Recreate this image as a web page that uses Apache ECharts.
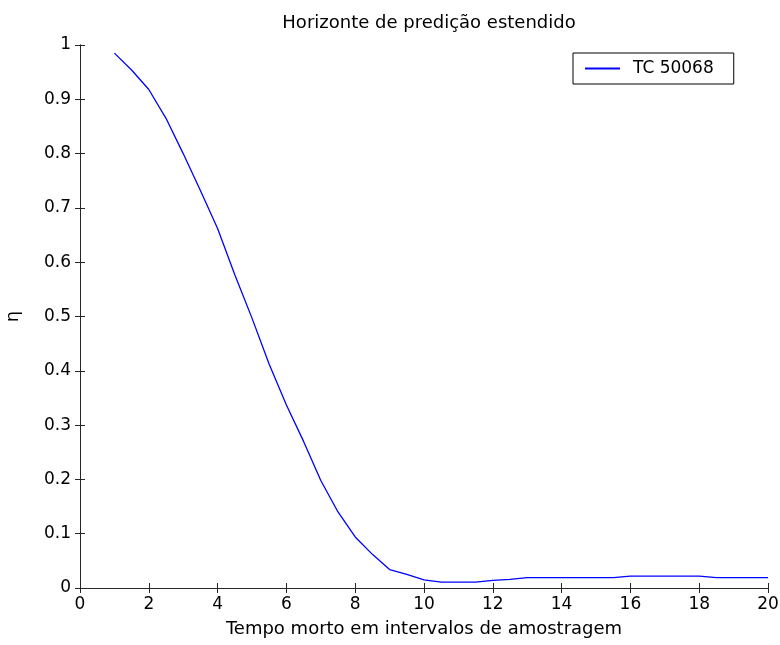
<!DOCTYPE html>
<html><head><meta charset="utf-8">
<script src="https://cdn.jsdelivr.net/npm/echarts@6/dist/echarts.min.js"></script>
<style>html,body{margin:0;padding:0;background:#fff}#c{width:780px;height:645px}</style>
</head><body><div id="c"></div>
<script>
const xValues = [1,1.5,2,2.5,3,3.5,4,4.5,5,5.5,6,6.5,7,7.5,8,8.5,9,9.5,10,10.5,11,11.5,12,12.5,13,13.5,14,14.5,15,15.5,16,16.5,17,17.5,18,18.5,19,19.5,20];
const etaValues = [0.985,0.954,0.918,0.865,0.800,0.732,0.662,0.577,0.497,0.412,0.337,0.270,0.198,0.140,0.094,0.062,0.034,0.025,0.015,0.011,0.011,0.011,0.014,0.016,0.019,0.019,0.019,0.019,0.019,0.019,0.022,0.022,0.022,0.022,0.022,0.019,0.019,0.019,0.019];
const seriesName = 'TC 50068';
const titleText = 'Horizonte de predição estendido';
const xLabel = 'Tempo morto em intervalos de amostragem';
const yLabel = 'η';

const font = '"DejaVu Sans", "Liberation Sans", Arial, sans-serif';
const axisCol = '#262626';
const chart = echarts.init(document.getElementById('c'));
const baseAxis = {
  axisLine: {show: true, lineStyle: {color: axisCol, width: 1}},
  axisTick: {show: true, inside: true, length: 5, lineStyle: {color: axisCol}},
  splitLine: {show: false}
};
chart.setOption({
  animation: false,
  title: {text: titleText, left: 424, top: 9, textAlign: 'center',
    textStyle: {fontFamily: font, fontSize: 18, fontWeight: 'normal', color: '#000'}},
  legend: {
    left: 573, top: 53,
    borderColor: '#000', borderWidth: 1, padding: [7, 20, 7, 12],
    itemWidth: 35, itemHeight: 2, itemGap: 0,
    textStyle: {fontFamily: font, fontSize: 17, color: '#000', padding: [0, 0, 0, 8]},
    data: [{name: seriesName, icon: 'rect'}]
  },
  grid: {left: 80, right: 12, top: 45, bottom: 57, containLabel: false, outerBoundsMode: 'none'},
  xAxis: [
    Object.assign({type: 'value', min: 0, max: 20, interval: 2, position: 'bottom',
      name: xLabel, nameLocation: 'middle', nameGap: 32,
      nameTextStyle: {fontFamily: font, fontSize: 18, color: '#000'},
      axisLabel: {fontFamily: font, fontSize: 17, color: '#000', margin: 8}}, baseAxis),
    Object.assign({type: 'value', min: 0, max: 20, interval: 2, position: 'top',
      axisLabel: {show: false}}, baseAxis)
  ],
  yAxis: [
    Object.assign({type: 'value', min: 0, max: 1, interval: 0.1, position: 'left',
      name: yLabel, nameLocation: 'middle', nameGap: 58, nameRotate: 90,
      nameTextStyle: {fontFamily: font, fontSize: 18, color: '#000'},
      axisLabel: {fontFamily: font, fontSize: 17, color: '#000', margin: 9}}, baseAxis),
    Object.assign({type: 'value', min: 0, max: 1, interval: 0.1, position: 'right',
      axisLabel: {show: false}}, baseAxis)
  ],
  series: [{
    name: seriesName, type: 'line', xAxisIndex: 0, yAxisIndex: 0,
    data: xValues.map((x, i) => [x, etaValues[i]]),
    showSymbol: false, symbol: 'none',
    lineStyle: {color: '#0000ff', width: 1.3}, itemStyle: {color: '#0000ff'}
  }]
});
</script></body></html>
